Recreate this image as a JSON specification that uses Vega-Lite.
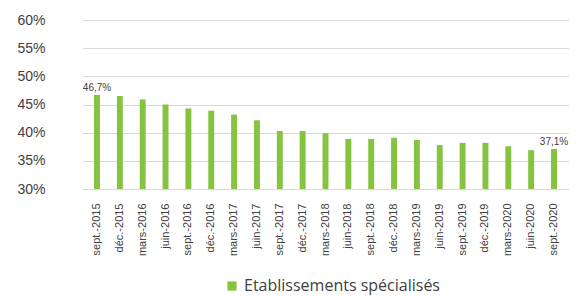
{
  "$schema": "https://vega.github.io/schema/vega-lite/v6.json",
  "width": 536,
  "height": 169,
  "autosize": {"type": "none"},
  "padding": {"left": 52, "top": 20, "right": 0, "bottom": 109},
  "background": "white",
  "data": {
    "values": [
      {"date": "sept.-2015", "value": 46.7, "label": "46,7%", "serie": "Etablissements spécialisés"},
      {"date": "déc.-2015", "value": 46.5, "label": "", "serie": "Etablissements spécialisés"},
      {"date": "mars-2016", "value": 45.9, "label": "", "serie": "Etablissements spécialisés"},
      {"date": "juin-2016", "value": 45.0, "label": "", "serie": "Etablissements spécialisés"},
      {"date": "sept.-2016", "value": 44.3, "label": "", "serie": "Etablissements spécialisés"},
      {"date": "déc.-2016", "value": 43.9, "label": "", "serie": "Etablissements spécialisés"},
      {"date": "mars-2017", "value": 43.2, "label": "", "serie": "Etablissements spécialisés"},
      {"date": "juin-2017", "value": 42.2, "label": "", "serie": "Etablissements spécialisés"},
      {"date": "sept.-2017", "value": 40.3, "label": "", "serie": "Etablissements spécialisés"},
      {"date": "déc.-2017", "value": 40.3, "label": "", "serie": "Etablissements spécialisés"},
      {"date": "mars-2018", "value": 39.9, "label": "", "serie": "Etablissements spécialisés"},
      {"date": "juin-2018", "value": 38.9, "label": "", "serie": "Etablissements spécialisés"},
      {"date": "sept.-2018", "value": 38.9, "label": "", "serie": "Etablissements spécialisés"},
      {"date": "déc.-2018", "value": 39.1, "label": "", "serie": "Etablissements spécialisés"},
      {"date": "mars-2019", "value": 38.7, "label": "", "serie": "Etablissements spécialisés"},
      {"date": "juin-2019", "value": 37.8, "label": "", "serie": "Etablissements spécialisés"},
      {"date": "sept.-2019", "value": 38.2, "label": "", "serie": "Etablissements spécialisés"},
      {"date": "déc.-2019", "value": 38.2, "label": "", "serie": "Etablissements spécialisés"},
      {"date": "mars-2020", "value": 37.6, "label": "", "serie": "Etablissements spécialisés"},
      {"date": "juin-2020", "value": 36.9, "label": "", "serie": "Etablissements spécialisés"},
      {"date": "sept.-2020", "value": 37.1, "label": "37,1%", "serie": "Etablissements spécialisés"}
    ]
  },
  "encoding": {
    "x": {
      "field": "date",
      "type": "nominal",
      "sort": null,
      "title": null,
      "scale": {"range": [30.6, 516.4], "paddingInner": 0.74, "paddingOuter": 0.5},
      "axis": {
        "labelAngle": 270,
        "labelPadding": 14,
        "labelFont": "Liberation Sans",
        "labelFontSize": 11,
        "labelColor": "#404040",
        "labelLimit": 0,
        "ticks": false,
        "domain": false,
        "grid": false
      }
    },
    "y": {
      "field": "value",
      "type": "quantitative",
      "title": null,
      "scale": {"domain": [30, 60], "nice": false, "zero": false},
      "axis": {
        "values": [30, 35, 40, 45, 50, 55, 60],
        "labelExpr": "datum.value + '%'",
        "labelFont": "Liberation Sans",
        "labelFontSize": 14,
        "labelColor": "#404040",
        "labelPadding": 7,
        "ticks": false,
        "domain": false,
        "grid": true,
        "gridColor": "#d9d9d9",
        "gridWidth": 1
      }
    }
  },
  "layer": [
    {
      "mark": {"type": "bar"},
      "encoding": {
        "y2": {"datum": 30},
        "color": {
          "field": "serie",
          "type": "nominal",
          "scale": {"range": ["#86c440"]},
          "legend": {
            "title": null,
            "orient": "none",
            "legendX": 172,
            "legendY": 258,
            "symbolType": "square",
            "symbolSize": 85,
            "symbolStrokeWidth": 0,
            "labelFont": "Open Sans",
            "labelFontSize": 16,
            "labelColor": "#404040",
            "labelOffset": 4,
            "labelLimit": 0
          }
        }
      }
    },
    {
      "mark": {"type": "text", "dy": -2, "baseline": "bottom", "font": "Liberation Sans", "fontSize": 10, "color": "#404040"},
      "encoding": {"text": {"field": "label"}}
    }
  ],
  "config": {"view": {"stroke": null}}
}
